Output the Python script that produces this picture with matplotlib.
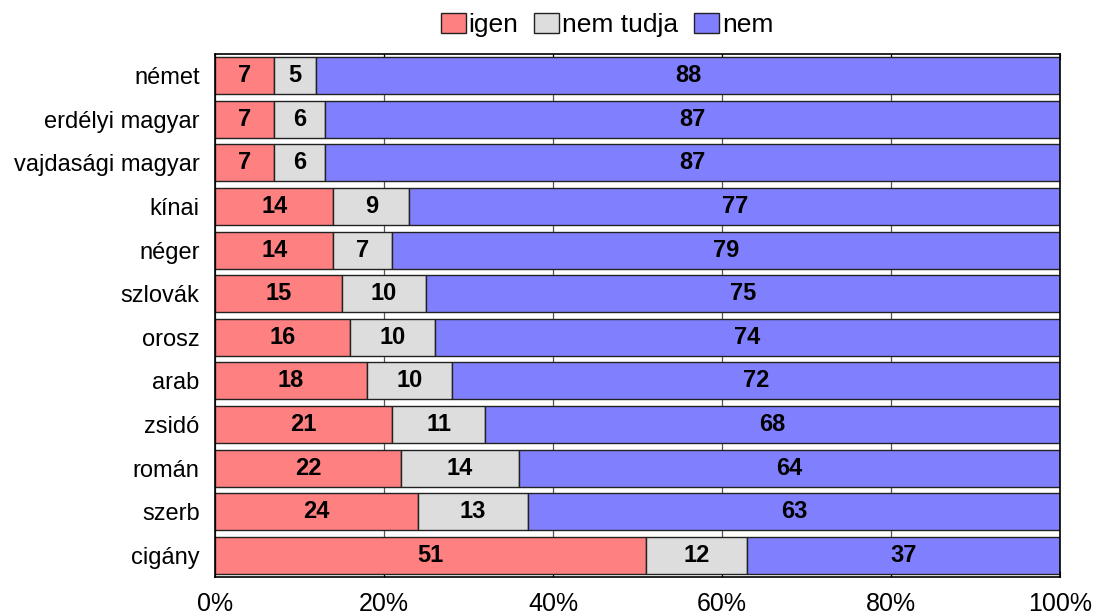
import matplotlib
matplotlib.use("Agg")
import matplotlib.pyplot as plt
from matplotlib.ticker import FuncFormatter

plt.rcParams['font.family'] = ['Liberation Sans', 'DejaVu Sans']

categories = ["német", "erdélyi magyar", "vajdasági magyar", "kínai", "néger",
              "szlovák", "orosz", "arab", "zsidó", "román", "szerb", "cigány"]
igen = [7, 7, 7, 14, 14, 15, 16, 18, 21, 22, 24, 51]
nem_tudja = [5, 6, 6, 9, 7, 10, 10, 10, 11, 14, 13, 12]
nem = [88, 87, 87, 77, 79, 75, 74, 72, 68, 64, 63, 37]
series_names = ["igen", "nem tudja", "nem"]
colors = ["#FF8080", "#DDDDDD", "#8080FF"]

fig = plt.figure(figsize=(10.94, 6.16), dpi=100)
ax = fig.add_axes([215 / 1094, 1 - 577 / 616, 845 / 1094, 523 / 616])
ax.set_axisbelow(True)
ax.xaxis.grid(True, color="#555555", linewidth=0.9)

y = list(range(len(categories)))
left = [0] * len(categories)
for name, vals, col in zip(series_names, [igen, nem_tudja, nem], colors):
    bars = ax.barh(y, vals, left=left, height=0.85, color=col,
                   edgecolor="#222222", linewidth=1.0, label=name)
    for b, v in zip(bars, vals):
        ax.text(b.get_x() + b.get_width() / 2, b.get_y() + b.get_height() / 2,
                str(v), ha="center", va="center", fontsize=17,
                fontweight="bold", color="black")
    left = [l + v for l, v in zip(left, vals)]

ax.set_xlim(0, 100)
ax.set_ylim(len(categories) - 0.5, -0.5)
ax.set_yticks(y)
ax.set_yticklabels(categories, fontsize=17)
ax.set_xticks([0, 20, 40, 60, 80, 100])
ax.xaxis.set_major_formatter(FuncFormatter(lambda v, p: f"{int(v)}%"))
ax.tick_params(axis="x", labelsize=18, direction="in", length=4, pad=11,
               top=True, bottom=True)
ax.tick_params(axis="y", length=0, pad=11)
for s in ax.spines.values():
    s.set_linewidth(1.2)
    s.set_color("black")

leg = ax.legend(loc="lower center", bbox_to_anchor=(0.464, 1.0), ncol=3,
                frameon=False, fontsize=19, handlelength=0.95, handleheight=0.8,
                handletextpad=0.1, columnspacing=0.6, borderaxespad=0.25)

fig.savefig("out.png", dpi=100)
